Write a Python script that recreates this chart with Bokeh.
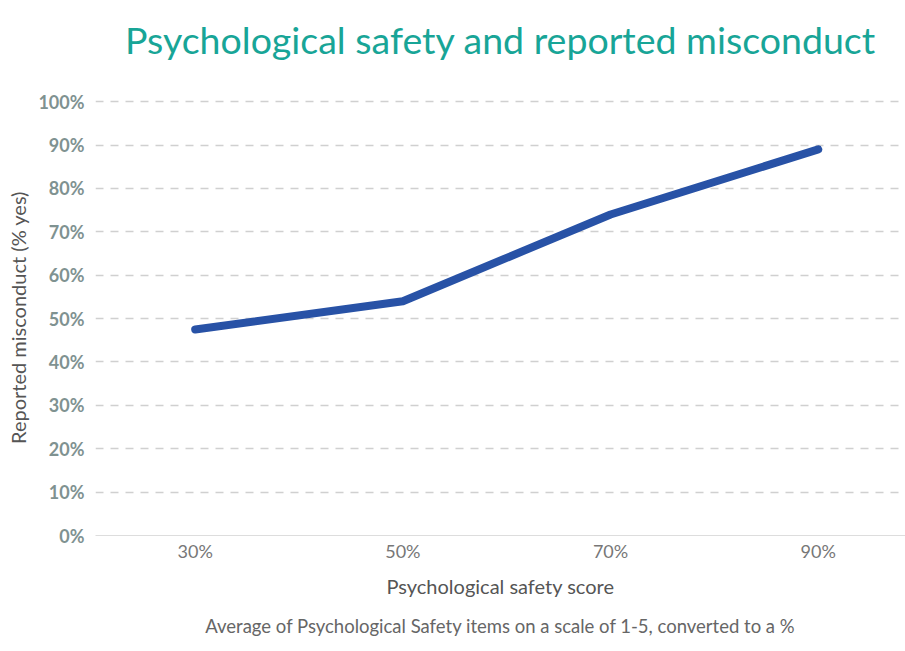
from bokeh.plotting import figure
from bokeh.layouts import column
from bokeh.models import Range1d, FixedTicker, PrintfTickFormatter, Title, Label
from bokeh.embed import file_html
from bokeh.resources import INLINE

safety_score = [30, 50, 70, 90]
misconduct_pct = [47.5, 54, 74, 89]
y_ticks = [0, 10, 20, 30, 40, 50, 60, 70, 80, 90, 100]
title_text = "Psychological safety and reported misconduct"
x_label = "Psychological safety score"
y_label = "Reported misconduct (% yes)"
footnote = "Average of Psychological Safety items on a scale of 1-5, converted to a %"

FONT = "Lato"
X0, X1 = 20.4, 98.4
TITLE_H = 78

# title strip
t = figure(width=905, height=TITLE_H, output_backend="svg", toolbar_location=None,
           x_range=Range1d(X0, X1), y_range=Range1d(0, 1), title=None,
           min_border_left=95, min_border_right=0, min_border_top=0, min_border_bottom=0)
t.axis.visible = False
t.grid.visible = False
t.outline_line_color = None
t.border_fill_color = "white"
t.background_fill_color = "white"
t.add_layout(Label(x=(X0 + X1) / 2, y=0.5, text=title_text, text_align="center",
                   text_baseline="middle", text_font=FONT, text_font_size="37.5px",
                   text_color="#18a597"))

p = figure(width=905, height=651 - TITLE_H, output_backend="svg", toolbar_location=None,
           x_range=Range1d(X0, X1), y_range=Range1d(0, 100.5), title=None,
           min_border_left=95, min_border_right=0, min_border_top=21, min_border_bottom=116)
p.outline_line_color = None
p.background_fill_color = "white"
p.border_fill_color = "white"

p.line(safety_score, misconduct_pct, line_color="#2852a6", line_width=8, line_cap="round", line_join="round")

foot = Title(text=footnote, align="center", text_font=FONT, text_font_style="normal",
             text_font_size="18.5px", text_color="#666666", standoff=24, offset=-20)
p.add_layout(foot, "below")

xa = p.xaxis[0]
xa.ticker = FixedTicker(ticks=safety_score)
xa.formatter = PrintfTickFormatter(format="%d%%")
xa.axis_line_color = "#dddddd"
xa.axis_line_width = 1
xa.major_tick_line_color = None
xa.minor_tick_line_color = None
xa.major_label_text_font = FONT
xa.major_label_text_font_size = "18px"
xa.major_label_text_color = "#777777"
xa.major_label_standoff = -2
xa.axis_label = x_label
xa.axis_label_text_font = FONT
xa.axis_label_text_font_style = "normal"
xa.axis_label_text_font_size = "20px"
xa.axis_label_text_color = "#555555"
xa.axis_label_standoff = 9

ya = p.yaxis[0]
ya.ticker = FixedTicker(ticks=y_ticks)
ya.formatter = PrintfTickFormatter(format="%d%%")
ya.axis_line_color = None
ya.major_tick_line_color = None
ya.minor_tick_line_color = None
ya.major_label_text_font = FONT
ya.major_label_text_font_style = "bold"
ya.major_label_text_font_size = "18px"
ya.major_label_text_color = "#7f9291"
ya.major_label_standoff = 5
ya.axis_label = y_label
ya.axis_label_text_font = FONT
ya.axis_label_text_font_style = "normal"
ya.axis_label_text_font_size = "20px"
ya.axis_label_text_color = "#555555"
ya.axis_label_standoff = 5

p.xgrid.grid_line_color = None
p.ygrid.grid_line_color = "#d0d0d0"
p.ygrid.grid_line_dash = "8 7"
p.ygrid.grid_line_width = 1.5

layout = column(t, p, spacing=0)
open("out.html", "w").write(file_html(layout, INLINE))
